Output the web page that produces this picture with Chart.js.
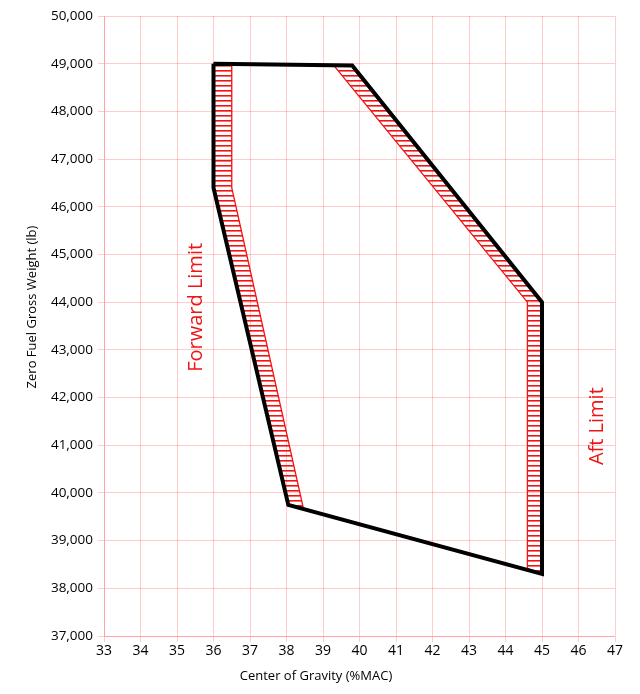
<!DOCTYPE html>
<html>
<head>
<meta charset="utf-8">
<script src="https://cdn.jsdelivr.net/npm/chart.js@4/dist/chart.umd.min.js"></script>
<style>
  html, body { margin: 0; padding: 0; background: #fff; }
  #wrap { width: 640px; height: 694px; }
</style>
</head>
<body>
<div id="wrap"><canvas id="chart"></canvas></div>
<script>
// Envelope outline (black)
const outlineCG = [36, 39.8, 45, 45, 38.05, 36, 36];
const outlineWt = [49000, 48960, 44000, 38300, 39750, 46400, 49000];

// Forward limit hatched band
const fwdCG = [36, 36.5, 36.5, 38.45, 38.05, 36, 36];
const fwdWt = [49000, 49000, 46400, 39720, 39750, 46400, 49000];

// Aft limit hatched band
const aftCG = [39.3, 39.8, 45, 45, 44.6, 44.6, 39.3];
const aftWt = [48960, 48960, 44000, 38300, 38420, 44000, 48960];

// Labels
const labelText = ['Forward Limit', 'Aft Limit'];
const labelCG = [35.53, 46.52];
const labelWt = [43890, 41400];

const FONT = "'Open Sans', 'Noto Sans', sans-serif";
const RED = 'rgb(240, 20, 20)';
const GRID = 'rgba(255, 0, 0, 0.2)';

const toPoints = (xs, ys) => xs.map((x, i) => ({ x, y: ys[i] }));

// horizontal hatching pattern
function hatchPattern() {
  const c = document.createElement('canvas');
  c.width = 8; c.height = 5;
  const g = c.getContext('2d');
  g.fillStyle = RED;
  g.fillRect(0, 0, 8, 1.6);
  return g.createPattern(c, 'repeat');
}

const textPlugin = {
  id: 'texts',
  afterDraw(chart) {
    const { ctx, scales: { x, y }, chartArea } = chart;
    ctx.save();
    // limit labels
    ctx.fillStyle = RED;
    ctx.font = '20px ' + FONT;
    ctx.textAlign = 'center';
    ctx.textBaseline = 'middle';
    labelText.forEach((t, i) => {
      ctx.save();
      ctx.translate(x.getPixelForValue(labelCG[i]), y.getPixelForValue(labelWt[i]));
      ctx.rotate(-Math.PI / 2);
      ctx.fillText(t, 0, 0);
      ctx.restore();
    });
    // axis titles
    ctx.fillStyle = '#000';
    ctx.font = '13px ' + FONT;
    ctx.fillText('Center of Gravity (%MAC)', chartArea.left + 212, chartArea.bottom + 40);
    ctx.save();
    ctx.translate(32, chartArea.top + 291);
    ctx.rotate(-Math.PI / 2);
    ctx.fillText('Zero Fuel Gross Weight (lb)', 0, 0);
    ctx.restore();
    ctx.restore();
  }
};

const pattern = hatchPattern();

new Chart(document.getElementById('chart'), {
  type: 'scatter',
  data: {
    datasets: [
      {
        label: 'Envelope',
        data: toPoints(outlineCG, outlineWt),
        showLine: true,
        borderColor: '#000',
        borderWidth: 4,
        borderJoinStyle: 'miter',
        pointRadius: 0,
        fill: false
      },
      {
        label: 'Forward',
        data: toPoints(fwdCG, fwdWt),
        showLine: true,
        borderColor: RED,
        borderWidth: 1.3,
        backgroundColor: pattern,
        pointRadius: 0,
        fill: 'shape'
      },
      {
        label: 'Aft',
        data: toPoints(aftCG, aftWt),
        showLine: true,
        borderColor: RED,
        borderWidth: 1.3,
        backgroundColor: pattern,
        pointRadius: 0,
        fill: 'shape'
      }
    ]
  },
  options: {
    responsive: true,
    maintainAspectRatio: false,
    animation: false,
    layout: { padding: { top: 16, right: 25, left: 0, bottom: 0 } },
    plugins: {
      legend: { display: false },
      tooltip: { enabled: false }
    },
    scales: {
      x: {
        type: 'linear',
        min: 33,
        max: 47,
        afterFit: s => { s.height = 58; },
        border: { color: GRID },
        grid: { color: GRID, tickLength: 6 },
        ticks: {
          stepSize: 1,
          color: '#000',
          font: { family: FONT, size: 14 },
          padding: 1,
          maxRotation: 0
        }
      },
      y: {
        type: 'linear',
        min: 37000,
        max: 50000,
        afterFit: s => { s.width = 104; },
        border: { color: GRID },
        grid: { color: GRID, tickLength: 6 },
        ticks: {
          stepSize: 1000,
          color: '#000',
          font: { family: FONT, size: 13.5 },
          padding: 5,
          callback: v => v.toLocaleString('en-US')
        }
      }
    }
  },
  plugins: [textPlugin]
});
</script>
</body>
</html>
